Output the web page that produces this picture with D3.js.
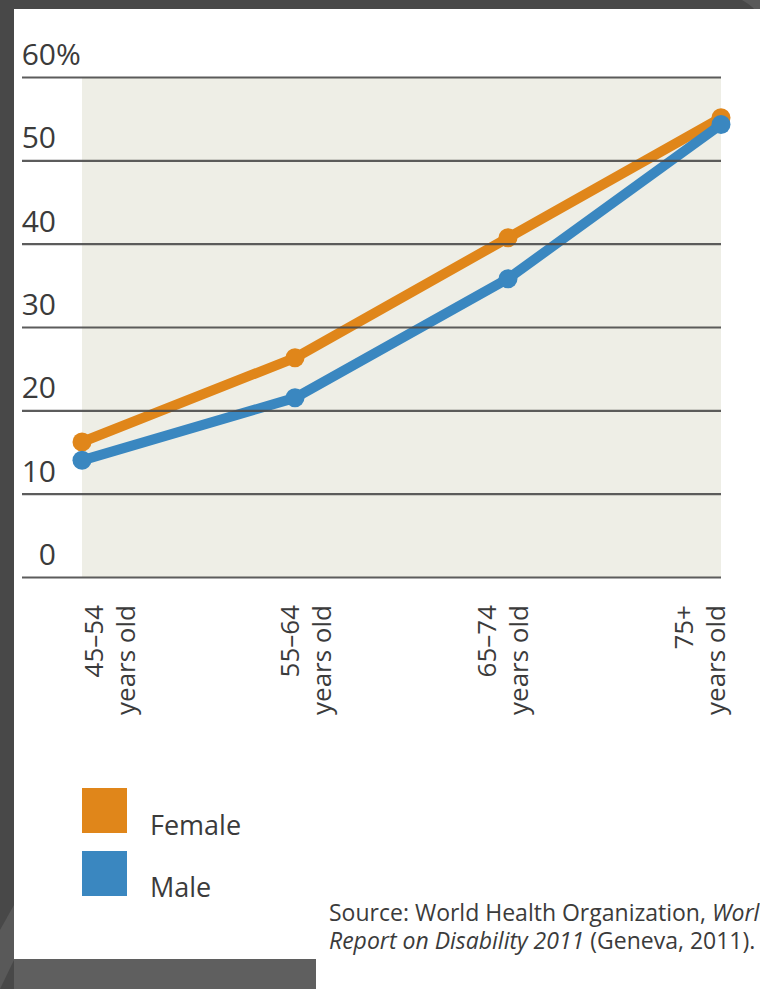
<!DOCTYPE html>
<html>
<head>
<meta charset="utf-8">
<script src="https://cdn.jsdelivr.net/npm/d3@7"></script>
<style>
  html, body { margin: 0; padding: 0; background: #484848; overflow: hidden; }
  svg { display: block; }
  text { font-family: "Open Sans", "Noto Sans", sans-serif; fill: #3b3b3b; }
</style>
</head>
<body>
<svg id="chart" width="760" height="989"></svg>
<script>
// Share of people with a disability, by age group and sex
const ageGroups = ["45\u201354", "55\u201364", "65\u201374", "75+"];
const femaleValues = [16.2, 26.3, 40.7, 55.1];
const maleValues = [14.0, 21.5, 35.8, 54.3];
const yTicks = [0, 10, 20, 30, 40, 50, 60];
const seriesNames = ["Female", "Male"];
const seriesColors = ["#e0861a", "#3a87c0"];

const svg = d3.select("#chart");

// page backdrop
svg.append("rect").attr("width", 760).attr("height", 989).attr("fill", "#484848");
svg.append("path").attr("d", "M0,930 L14,905 L14,960 L0,989 Z").attr("fill", "#595959");
svg.append("rect").attr("x", 14).attr("y", 959).attr("width", 302).attr("height", 30).attr("fill", "#5f5f5f");
svg.append("path").attr("d", "M742,0 Q752,6 754,9 L760,9 L760,0 Z").attr("fill", "#5a5a5a");
// white page
svg.append("path")
  .attr("d", "M14,9 L760,9 L760,989 L316,989 L316,959 L14,959 Z")
  .attr("fill", "#ffffff");

const x = d3.scalePoint().domain(ageGroups).range([82, 721]);
const xLabel = d3.scalePoint().domain(ageGroups).range([108, 698]);
const y = d3.scaleLinear().domain([0, 60]).range([577, 77]);

// shaded plot area
svg.append("rect")
  .attr("x", x(ageGroups[0])).attr("y", y(60))
  .attr("width", x(ageGroups[3]) - x(ageGroups[0]))
  .attr("height", y(0) - y(60))
  .attr("fill", "#eeeee6");

// series
const series = [femaleValues, maleValues];
const line = d3.line().x((d, i) => x(ageGroups[i])).y(d => y(d));
series.forEach((vals, s) => {
  const g = svg.append("g");
  g.append("path").attr("d", line(vals))
    .attr("fill", "none").attr("stroke", seriesColors[s])
    .attr("stroke-width", 10).attr("stroke-linejoin", "round");
  g.selectAll("circle").data(vals).join("circle")
    .attr("cx", (d, i) => x(ageGroups[i])).attr("cy", d => y(d))
    .attr("r", 9.5).attr("fill", seriesColors[s]);
});

// gridlines over the data
svg.append("g").attr("transform", "translate(721,0)").call(g => {
  g.call(d3.axisRight(y).tickValues(yTicks).tickSize(-(721 - 22)).tickFormat(""));
  g.select(".domain").remove();
  g.selectAll(".tick line").attr("stroke", "#4a4a4a").attr("stroke-width", 2.2).attr("stroke-opacity", 0.9);
});

// y labels
const yl = svg.append("g");
yl.selectAll("text.num").data(yTicks).join("text")
  .attr("class", "num")
  .attr("x", 56).attr("y", d => y(d) - 12)
  .attr("text-anchor", "end")
  .attr("font-size", 30)
  .text(d => d);
yl.append("text")
  .attr("x", 56).attr("y", y(60) - 12)
  .attr("font-size", 30)
  .text("%");

// x labels, rotated
const xl = svg.append("g");
ageGroups.forEach(a => {
  const t = xl.append("text")
    .attr("transform", `translate(${xLabel(a)},605) rotate(-90)`)
    .attr("text-anchor", "end")
    .attr("font-size", 26);
  t.append("tspan").attr("x", 0).attr("dy", "-0.2em").text(a);
  t.append("tspan").attr("x", 0).attr("dy", "1.22em").text("years old");
});

// legend
const lg = svg.append("g");
seriesNames.forEach((n, i) => {
  lg.append("rect").attr("x", 82).attr("y", 788 + i * 63)
    .attr("width", 45).attr("height", 45).attr("fill", seriesColors[i]);
  lg.append("text").attr("x", 150).attr("y", 835 + i * 62)
    .attr("font-size", 27).text(n);
});

// source note
const src = svg.append("text").attr("x", 329).attr("y", 921).attr("font-size", 23);
src.append("tspan").text("Source: World Health Organization, ");
src.append("tspan").attr("font-style", "italic").text("World");
const src2 = svg.append("text").attr("x", 329).attr("y", 949).attr("font-size", 23);
src2.append("tspan").attr("font-style", "italic").text("Report on Disability 2011");
src2.append("tspan").text(" (Geneva, 2011).");
</script>
</body>
</html>
